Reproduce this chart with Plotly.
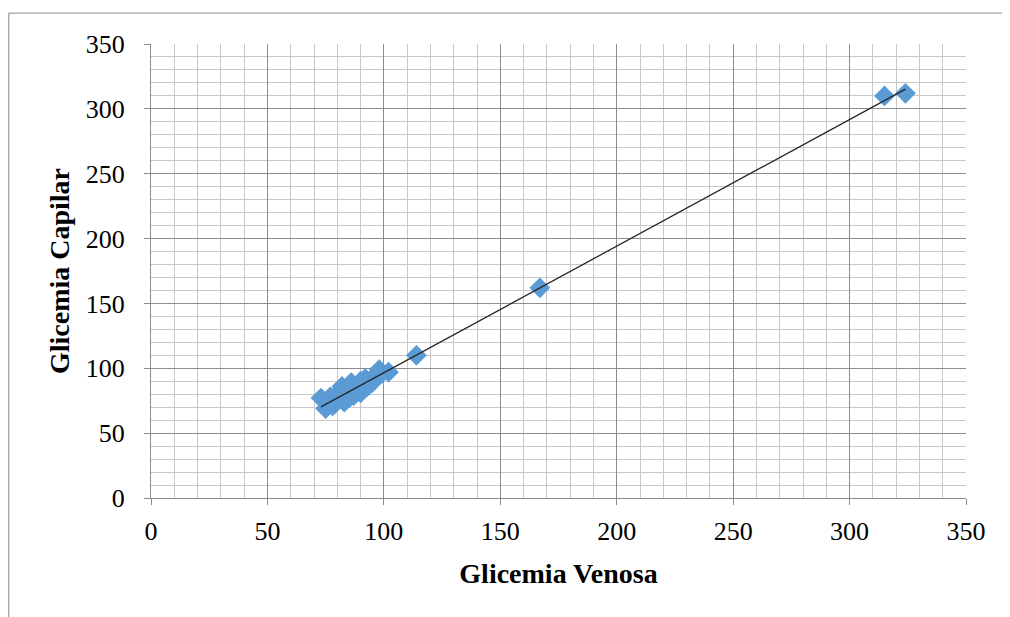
import numpy as np
import plotly.graph_objects as go

venosa = [73, 75, 76, 77, 78, 79, 80, 80, 81, 82, 83, 83, 84, 85, 85, 86, 87, 87, 88, 89,
          90, 90, 91, 92, 93, 94, 95, 96, 97, 98, 99, 102, 114, 167, 315, 324]
capilar = [77, 69, 74, 78, 71, 73, 76, 80, 78, 86, 74, 82, 80, 83, 77, 89, 79, 85, 84, 87,
           81, 90, 84, 92, 86, 90, 89, 94, 95, 99, 96, 97, 110, 162, 310, 312]

x_ticks = [0, 50, 100, 150, 200, 250, 300, 350]
y_ticks = [0, 50, 100, 150, 200, 250, 300, 350]

xa = np.array(venosa, dtype=float)
ya = np.array(capilar, dtype=float)
m, b = np.polyfit(xa, ya, 1)
tx = [xa.min(), xa.max()]
ty = [m * v + b for v in tx]

fig = go.Figure()
fig.add_trace(go.Scatter(
    x=venosa, y=capilar, mode="markers",
    marker=dict(symbol="diamond", size=16, color="#5B9BD5", line=dict(width=0)),
    showlegend=False, hoverinfo="x+y"))
fig.add_trace(go.Scatter(
    x=tx, y=ty, mode="lines", line=dict(color="#262626", width=1.3),
    showlegend=False, hoverinfo="skip"))

axis_common = dict(
    range=[0, 350], dtick=50, tick0=0,
    showgrid=True, gridcolor="#8c8c8c", gridwidth=1,
    minor=dict(dtick=10, showgrid=True, gridcolor="#c8c8c8", gridwidth=1),
    showline=True, linecolor="#8c8c8c", linewidth=1,
    ticks="outside", ticklen=6, tickcolor="#8c8c8c",
    zeroline=False,
    tickfont=dict(family="Liberation Serif", size=26, color="#000000"),
)

fig.update_xaxes(**axis_common, tickvals=x_ticks, ticklabelstandoff=4,
                 title=dict(text="<b>Glicemia Venosa</b>", standoff=18,
                            font=dict(family="Liberation Serif", size=28, color="#000000")))
fig.update_yaxes(**axis_common, tickvals=y_ticks, ticklabelstandoff=14,
                 title=dict(text="<b>Glicemia Capilar</b>", standoff=7,
                            font=dict(family="Liberation Serif", size=28, color="#000000")))

fig.add_shape(type="rect", xref="paper", yref="paper",
              x0=-0.1745, x1=1.2, y0=-0.4, y1=1.068,
              line=dict(color="#8c8c8c", width=1), fillcolor="rgba(0,0,0,0)", layer="below")

fig.update_layout(
    width=1002, height=609,
    margin=dict(l=143, r=44, t=36, b=119),
    paper_bgcolor="white", plot_bgcolor="white",
)

fig.write_html("out.html")
